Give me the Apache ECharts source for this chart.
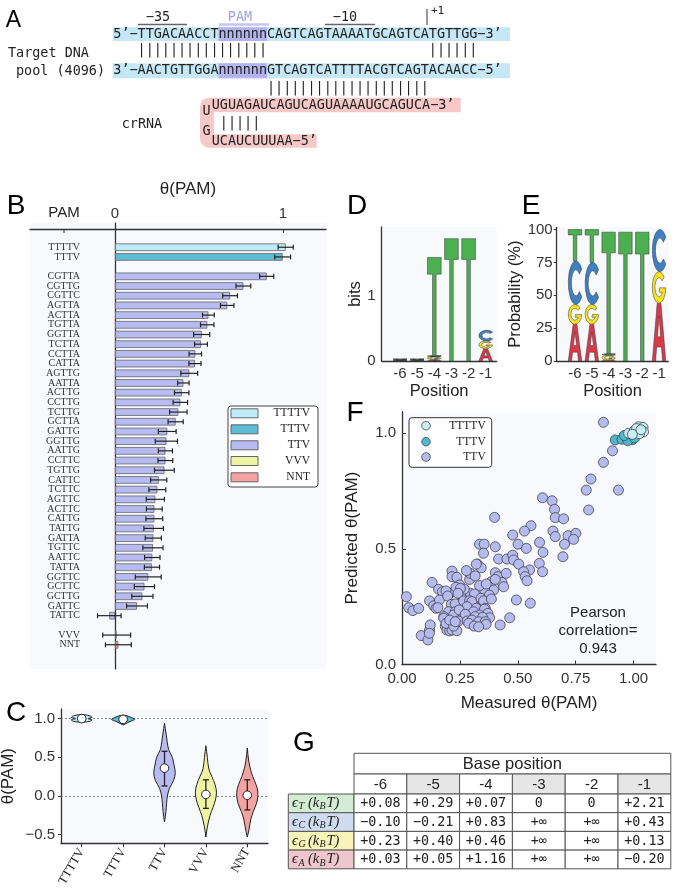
<!DOCTYPE html>
<html>
<head>
<meta charset="utf-8">
<script src="https://cdn.jsdelivr.net/npm/echarts@6/dist/echarts.min.js"></script>
<style>
html,body{margin:0;padding:0;background:#fff}
#main{width:677px;height:891px}
</style>
</head>
<body>
<div id="main"></div>
<script>
// fonts
const SANS = '"Liberation Sans", Arial, sans-serif'
const MONO = '"DejaVu Sans Mono", monospace'
const SERIF = '"Liberation Serif", serif'
const BG = '#f7f9fd'

// ---------- panel A : sequences ----------
const dnaTop = '5’−TTGACAACCTnnnnnnCAGTCAGTAAAATGCAGTCATGTTGG−3’'
const dnaBottom = '3’−AACTGTTGGAnnnnnnGTCAGTCATTTTACGTCAGTACAACC−5’'
const crTop = 'UGUAGAUCAGUCAGUAAAAUGCAGUCA−3’'
const crBottom = 'UCAUCUUUAA−5’'

// ---------- panel B : theta(PAM) per PAM ----------
const pamLabels = ['TTTTV','TTTV',
  'CGTTA','CGTTG','CGTTC','AGTTA','ACTTA','TGTTA','GGTTA','TCTTA','CCTTA','CATTA',
  'AGTTG','AATTA','ACTTG','CCTTG','TCTTG','GCTTA','GATTG','GGTTG','AATTG','CCTTC',
  'TGTTG','CATTC','TCTTC','AGTTC','ACTTC','CATTG','TATTG','GATTA','TGTTC','AATTC',
  'TATTA','GGTTC','GCTTC','GCTTG','GATTC','TATTC','VVV','NNT']
const pamTheta = [1.016,0.998,
  0.903,0.764,0.685,0.668,0.556,0.549,0.516,0.512,0.478,0.476,
  0.442,0.407,0.397,0.389,0.377,0.361,0.311,0.306,0.300,0.300,
  0.294,0.260,0.252,0.240,0.234,0.234,0.230,0.228,0.226,0.222,
  0.220,0.198,0.175,0.163,0.131,-0.034,0.01,0.02]
const pamErr = [0.045,0.047,
  0.042,0.044,0.044,0.040,0.035,0.040,0.048,0.038,0.037,0.036,
  0.050,0.034,0.043,0.043,0.052,0.045,0.053,0.066,0.042,0.044,
  0.059,0.048,0.050,0.054,0.047,0.050,0.058,0.048,0.060,0.046,
  0.045,0.077,0.060,0.063,0.062,0.070,0.083,0.077]
const groupNames = ['TTTTV','TTTV','TTV','VVV','NNT']
const groupColors = ['#bfeaf7','#5cbdd4','#b7bbf1','#eff3a4','#f4a3a3']

// ---------- panel C : violins ----------
const violinCats = ['TTTTV','TTTV','TTV','VVV','NNT']
// [theta, half width as fraction of the category band]
const violinTTTTV = [[1.05,0.07],[1.035,0.2],[1.015,0.25],[1.0,0.15],[0.985,0.25],[0.965,0.2],[0.955,0.07]]
const violinTTTV = [[1.04,0.07],[1.02,0.17],[0.99,0.28],[0.97,0.2],[0.945,0.1],[0.917,0]]
const violinTTV = [[0.94,0],[0.8,0.04],[0.6,0.1],[0.5,0.19],[0.4,0.23],[0.3,0.26],[0.2,0.22],[0.1,0.12],[0.0,0.07],[-0.1,0.05],[-0.2,0.035],[-0.335,0]]
const violinVVV = [[0.65,0],[0.5,0.035],[0.35,0.07],[0.25,0.145],[0.15,0.22],[0.05,0.255],[-0.05,0.23],[-0.15,0.17],[-0.25,0.1],[-0.4,0.035],[-0.53,0]]
const violinNNT = [[0.62,0],[0.45,0.035],[0.3,0.1],[0.2,0.17],[0.1,0.24],[0.0,0.255],[-0.1,0.22],[-0.2,0.145],[-0.3,0.085],[-0.45,0.035],[-0.53,0]]
const violinMedian = [1.0,0.99,0.36,0.02,0.01]
const violinLow = [null,null,0.13,-0.16,-0.18]
const violinHigh = [null,null,0.578,0.209,0.209]

// ---------- panels D, E : logos ----------
const logoPos = [-6,-5,-4,-3,-2,-1]
const bitsA = [0.006,0.006,0.02,0,0,0.19]
const bitsG = [0.006,0.006,0.05,0,0,0.12]
const bitsC = [0.008,0.008,0.01,0,0,0.165]
const bitsT = [0.006,0.006,1.52,1.89,1.89,0]
const probA = [28,28,0.5,0,0,44]
const probG = [15,15,4,0,0,24]
const probC = [33,32,1,0,0,32]
const probT = [24,25,92.5,98,98,0]
const logoColors = ['#d93a4a','#f5e322','#3f80c2','#4caf50'] // A G C T
const logoPaths = [
  'M0,100 L36,0 L64,0 L100,100 L76,100 L68,76 L32,76 L24,100 Z M38,58 L62,58 L50,22 Z',
  'M88,18 A50,50 0 1 0 100,52 L52,52 L52,66 L75,66 A30,30 0 1 1 72,30 Z',
  'M88,18 A50,50 0 1 0 88,82 L72,70 A30,30 0 1 1 72,30 Z',
  'M0,0 L100,0 L100,17 L63,17 L63,100 L37,100 L37,17 L0,17 Z'
]

// ---------- panel F : predicted vs measured ----------
const fTTV = [
  [0.870,1.047],[0.909,0.924],[0.870,0.874],[0.816,0.802],[0.796,0.754],[0.935,0.754],[0.806,0.668],
  [0.607,0.721],[0.648,0.708],[0.659,0.671],[0.662,0.635],[0.698,0.630],[0.400,0.636],
  [0.557,0.600],[0.529,0.577],[0.652,0.577],[0.662,0.553],[0.478,0.560],[0.717,0.557],[0.751,0.567],[0.741,0.541],
  [0.501,0.520],[0.594,0.528],[0.537,0.502],[0.702,0.520],[0.695,0.466],[0.609,0.485],
  [0.335,0.520],[0.355,0.520],[0.352,0.481],[0.403,0.509],[0.417,0.456],[0.453,0.456],[0.478,0.473],[0.482,0.452],[0.504,0.434],
  [0.326,0.434],[0.342,0.418],
  [0.593,0.437],[0.607,0.401],[0.551,0.409],[0.525,0.401],[0.532,0.380],[0.540,0.362],
  [0.403,0.397],[0.414,0.380],[0.432,0.355],[0.439,0.336],[0.450,0.394],[0.386,0.358],[0.381,0.315],[0.374,0.308],
  [0.403,0.368],[0.396,0.322],[0.357,0.322],[0.335,0.341],[0.364,0.348],
  [0.292,0.368],[0.295,0.394],[0.321,0.434],[0.278,0.406],[0.216,0.404],[0.216,0.380],[0.237,0.377],[0.316,0.383],
  [0.130,0.355],[0.158,0.325],[0.175,0.315],[0.206,0.308],[0.249,0.344],[0.256,0.300],[0.295,0.308],[0.313,0.305],
  [0.190,0.318],[0.233,0.334],[0.269,0.326],[0.252,0.329],[0.242,0.308],[0.377,0.300],
  [0.019,0.293],[0.029,0.246],[0.047,0.233],[0.072,0.243],[0.119,0.275],[0.137,0.254],[0.147,0.243],[0.162,0.279],
  [0.197,0.296],[0.213,0.260],[0.230,0.262],[0.266,0.275],[0.292,0.276],[0.302,0.272],[0.281,0.250],[0.321,0.243],
  [0.345,0.279],[0.341,0.286],[0.352,0.275],[0.386,0.283],[0.360,0.243],[0.356,0.239],
  [0.201,0.228],[0.230,0.228],[0.309,0.228],[0.335,0.214],[0.263,0.210],[0.316,0.207],[0.223,0.214],[0.247,0.236],
  [0.273,0.217],[0.371,0.221],[0.378,0.202],[0.348,0.204],[0.180,0.207],[0.155,0.246],
  [0.494,0.279],[0.554,0.265],[0.465,0.202],[0.424,0.171],
  [0.083,0.125],[0.112,0.106],[0.119,0.149],[0.122,0.171],[0.118,0.135],
  [0.180,0.200],[0.187,0.166],[0.194,0.149],[0.206,0.145],[0.216,0.149],[0.237,0.146],[0.190,0.178],[0.223,0.166],
  [0.244,0.188],[0.206,0.192],[0.230,0.185],
  [0.281,0.188],[0.302,0.192],[0.331,0.185],[0.360,0.185],[0.288,0.178],[0.312,0.166],[0.363,0.174],[0.331,0.163]
]
const fTTTV = [[0.921,0.971],[0.950,0.974],[0.967,0.985],[0.985,0.977],[0.995,0.972],[0.975,0.968],[1.005,0.980],[0.960,0.990]]
const fTTTTV = [[0.979,1.000],[1.003,1.011],[1.022,1.028],[1.041,1.025],[1.043,1.006],[1.026,0.998],[1.013,1.020],[0.995,0.995],[1.032,1.015]]

// ---------- panel G : table ----------
const tablePositions = ['-6','-5','-4','-3','-2','-1']
const energyBases = ['T','C','G','A']
const energyT = ['+0.08','+0.29','+0.07','0','0','+2.21']
const energyC = ['−0.10','−0.21','+0.83','+∞','+∞','+0.43']
const energyG = ['+0.23','+0.40','+0.46','+∞','+∞','+0.13']
const energyA = ['+0.03','+0.05','+1.16','+∞','+∞','−0.20']
const energyColors = ['#d3ecd3','#cfdbef','#f6f4b8','#efc6cc']

// ---------- helpers ----------
function txt(x, y, s, o) {
  o = o || {}
  return {
    type: 'text', x: x, y: y, rotation: o.rot || 0, silent: true, z: 10,
    style: {
      text: s, font: o.font || ('15px ' + SANS), fill: o.color || '#222',
      align: o.align || 'left', textAlign: o.align || 'left',
      verticalAlign: 'middle', textVerticalAlign: 'middle'
    }
  }
}
function box(x, y, w, h, fill, stroke, r) {
  return {
    type: 'rect', silent: true, z: 5,
    shape: { x: x, y: y, width: w, height: h, r: r || 0 },
    style: { fill: fill, stroke: stroke || null, lineWidth: stroke ? 1 : 0 }
  }
}
function seg(x1, y1, x2, y2, color, w) {
  return {
    type: 'line', silent: true, z: 6,
    shape: { x1: x1, y1: y1, x2: x2, y2: y2 },
    style: { stroke: color, lineWidth: w || 1 }
  }
}
function groupOf(label) {
  return groupNames.indexOf(label) >= 0 ? label : 'TTV'
}

// ---------- B: slots with gaps ----------
const slotNames = [' ', '  ']
const barData = []
const errData = []
let prevGroup = null
pamLabels.forEach(function (l, i) {
  const g = groupOf(l)
  if ((g === 'TTV' && prevGroup === 'TTTV') || (g === 'VVV' && prevGroup === 'TTV')) {
    slotNames.push(' '.repeat(slotNames.length + 1))
  }
  const k = slotNames.length
  slotNames.push(l)
  barData.push({ value: [pamTheta[i], k], itemStyle: { color: groupColors[groupNames.indexOf(g)] } })
  errData.push([pamTheta[i], k, pamErr[i]])
  prevGroup = g
})
slotNames.push(' '.repeat(slotNames.length + 1))
slotNames.push(' '.repeat(slotNames.length + 1))

function renderErr(params, api) {
  const x = api.value(0), y = api.value(1), e = api.value(2)
  const a = api.coord([x - e, y]), b = api.coord([x + e, y])
  const st = { stroke: '#222', lineWidth: 1.2 }
  return { type: 'group', children: [
    { type: 'line', shape: { x1: a[0], y1: a[1], x2: b[0], y2: b[1] }, style: st },
    { type: 'line', shape: { x1: a[0], y1: a[1] - 2.5, x2: a[0], y2: a[1] + 2.5 }, style: st },
    { type: 'line', shape: { x1: b[0], y1: b[1] - 2.5, x2: b[0], y2: b[1] + 2.5 }, style: st }
  ] }
}

// ---------- C: violins ----------
const violinProfiles = [violinTTTTV, violinTTTV, violinTTV, violinVVV, violinNNT]
const violinColors = ['#bfeaf7','#5cbdd4','#b7bbf1','#eff3a4','#f4a3a3']
function renderViolin(params, api) {
  const i = api.value(0)
  const prof = violinProfiles[i]
  const band = api.size([1, 0])[0]
  const right = [], left = []
  prof.forEach(function (p) {
    const c = api.coord([i, p[0]])
    right.push([c[0] + p[1] * band, c[1]])
    left.unshift([c[0] - p[1] * band, c[1]])
  })
  const kids = [{
    type: 'polygon', shape: { points: right.concat(left), smooth: 0.35 },
    style: { fill: violinColors[i], stroke: '#222', lineWidth: 1 }
  }]
  const st = { stroke: '#222', lineWidth: 1.3 }
  if (violinLow[i] !== null) {
    const lo = api.coord([i, violinLow[i]]), hi = api.coord([i, violinHigh[i]])
    kids.push({ type: 'line', shape: { x1: lo[0], y1: lo[1], x2: hi[0], y2: hi[1] }, style: st })
    kids.push({ type: 'line', shape: { x1: lo[0] - 3, y1: lo[1], x2: lo[0] + 3, y2: lo[1] }, style: st })
    kids.push({ type: 'line', shape: { x1: hi[0] - 3, y1: hi[1], x2: hi[0] + 3, y2: hi[1] }, style: st })
  }
  const m = api.coord([i, violinMedian[i]])
  kids.push({ type: 'circle', shape: { cx: m[0], cy: m[1], r: 4.3 }, style: { fill: '#fff', stroke: '#222', lineWidth: 1 } })
  return { type: 'group', children: kids }
}

// ---------- D, E: logos ----------
function stackLogo(cols) {
  const out = []
  logoPos.forEach(function (p, i) {
    let base = 0
    cols.forEach(function (arr, li) {
      const h = arr[i]
      if (h > 0) { out.push([p, base, base + h, li]); base += h }
    })
  })
  return out
}
function renderLogo(params, api) {
  const pos = api.value(0), lo = api.value(1), hi = api.value(2), li = api.value(3)
  const a = api.coord([pos, lo]), b = api.coord([pos, hi])
  const w = api.size([1, 0])[0] * 0.8
  const h = Math.max(a[1] - b[1], 0.8)
  return {
    type: 'path',
    shape: { pathData: logoPaths[li], x: a[0] - w / 2, y: a[1] - h, width: w, height: h, layout: 'cover' },
    style: { fill: logoColors[li], stroke: '#333', lineWidth: 0.5 }
  }
}

// ---------- graphic: panel A ----------
function panelA() {
  const cw = 8.09, x0 = 113.3
  const f = '13.44px ' + MONO
  const pairs1 = '   ' + '|'.repeat(16) + ' '.repeat(20) + '|'.repeat(6)
  const pairs2 = ' '.repeat(19) + '|'.repeat(20)
  const pairs3 = ' ' + '|'.repeat(5)
  return [
    box(112.7, 27.3, 397.3, 13.7, '#c6e7f6'),
    box(112.7, 63.3, 397.3, 15, '#c6e7f6'),
    box(x0 + 13 * cw, 27.3, 6 * cw, 13.7, '#b2b4ef'),
    box(x0 + 13 * cw, 63.3, 6 * cw, 15, '#b2b4ef'),
    box(200, 97.7, 14, 50, '#f6c8c8', null, [9, 0, 0, 9]),
    box(210, 97.7, 250.7, 14.6, '#f6c8c8'),
    box(210, 134.3, 106.7, 13.4, '#f6c8c8'),
    seg(138, 24.5, 187, 24.5, '#666', 1.5),
    seg(219, 24.5, 269, 24.5, '#c3c6f0', 2.5),
    seg(325, 24.5, 375, 24.5, '#666', 1.5),
    seg(427, 9, 427, 25, '#333', 1),
    txt(158, 17, '−35', { font: f, align: 'center' }),
    txt(240, 17, 'PAM', { font: f, align: 'center', color: '#9ea4de' }),
    txt(345, 17, '−10', { font: f, align: 'center' }),
    txt(431, 11, '+1', { font: '11px ' + MONO }),
    txt(x0, 34.2, dnaTop, { font: f }),
    txt(x0, 50, pairs1, { font: f }),
    txt(x0, 70.8, dnaBottom, { font: f }),
    txt(x0, 88, pairs2, { font: f }),
    txt(211.7, 105, crTop, { font: f }),
    txt(211.7, 123, pairs3, { font: f }),
    txt(211.7, 141, crBottom, { font: f }),
    txt(206.5, 111.7, 'U', { font: f, align: 'center' }),
    txt(206.5, 131, 'G', { font: f, align: 'center' }),
    txt(8, 53, 'Target DNA', { font: f }),
    txt(16, 71.5, 'pool (4096)', { font: f }),
    txt(121.7, 124, 'crRNA', { font: f })
  ]
}

// ---------- graphic: legends ----------
function legendB() {
  const els = [box(228, 406, 90, 81, '#fff', '#444', 3)]
  const ys = [413.3, 429.3, 445.3, 461, 477.3]
  groupNames.forEach(function (g, i) {
    const r = box(231, ys[i] - 4.5, 27, 9, groupColors[i], '#666')
    r.z = 6
    els.push(r)
    els.push(txt(310, ys[i], g, { font: '11.5px ' + SERIF, align: 'right' }))
  })
  return els
}
function legendF() {
  const els = [box(409, 417.7, 82.7, 49.6, '#fff', '#333', 3)]
  const ys = [425.7, 441.7, 457]
  const cols = ['#c8eef8', '#4fb8cf', '#b5baf0']
  ;['TTTTV', 'TTTV', 'TTV'].forEach(function (g, i) {
    els.push({ type: 'circle', silent: true, z: 6, shape: { cx: 426, cy: ys[i], r: 4.3 }, style: { fill: cols[i], stroke: '#444', lineWidth: 0.8 } })
    els.push(txt(485.7, ys[i], g, { font: '11.5px ' + SERIF, align: 'right' }))
  })
  return els
}

// ---------- graphic: table G ----------
function tableG() {
  const els = []
  const x0 = 354, cw = 52.8, lx = 288.3
  const st = '#555'
  els.push(box(x0, 753.3, cw * 6, 20.7, '#fff', st))
  els.push(txt(x0 + cw * 3, 764, 'Base position', { font: '16.5px ' + SANS, align: 'center' }))
  tablePositions.forEach(function (p, j) {
    els.push(box(x0 + j * cw, 774, cw, 20, j % 2 ? '#e6e6e6' : '#fff', st))
    els.push(txt(x0 + j * cw + cw / 2, 784.5, p, { font: '15px ' + SANS, align: 'center' }))
  })
  const rows = [energyT, energyC, energyG, energyA]
  const rh = 18.7
  rows.forEach(function (vals, r) {
    const y = 794 + r * rh
    els.push(box(lx, y, x0 - lx, rh, energyColors[r], st))
    const cy = y + rh / 2
    const it = 'italic 14.5px ' + SERIF, sub = 'italic 10px ' + SERIF
    els.push(txt(292, cy, 'ϵ', { font: it }))
    els.push(txt(298.5, cy + 3.5, energyBases[r], { font: sub }))
    els.push(txt(308, cy, '(k', { font: it }))
    els.push(txt(319.5, cy + 3.5, 'B', { font: sub }))
    els.push(txt(326.5, cy, 'T)', { font: it }))
    vals.forEach(function (v, j) {
      els.push(box(x0 + j * cw, y, cw, rh, '#fff', st))
      els.push(txt(x0 + j * cw + cw / 2, cy + 0.5, v, { font: '13.4px ' + MONO, align: 'center' }))
    })
  })
  return els
}

function letters() {
  const f = '28px ' + SANS
  return [
    txt(13.5, 20.5, 'A', { font: '23px ' + SANS, align: 'center', color: '#000' }),
    txt(16, 206, 'B', { font: f, align: 'center', color: '#000' }),
    txt(16, 713, 'C', { font: f, align: 'center', color: '#000' }),
    txt(357, 206, 'D', { font: f, align: 'center', color: '#000' }),
    txt(531, 206, 'E', { font: f, align: 'center', color: '#000' }),
    txt(355, 413, 'F', { font: f, align: 'center', color: '#000' }),
    txt(304, 743, 'G', { font: f, align: 'center', color: '#000' }),
    // B header row
    txt(188, 189, 'θ(PAM)', { font: '17px ' + SANS, align: 'center' }),
    txt(64, 213, 'PAM', { font: '15px ' + SANS, align: 'center' }),
    seg(64, 229, 64, 233, '#333', 1),
    // F annotation
    txt(598, 613, 'Pearson', { font: '15px ' + SANS, align: 'center' }),
    txt(598, 631, 'correlation=', { font: '15px ' + SANS, align: 'center' }),
    txt(598, 649, '0.943', { font: '15px ' + SANS, align: 'center' })
  ]
}

// ---------- axes ----------
const lbl = { fontFamily: SANS, fontSize: 15, color: '#333' }
const axLine = { show: true, onZero: false, lineStyle: { color: '#333', width: 1.3 } }
const nameStyle = { fontFamily: SANS, fontSize: 16.5, color: '#222' }

function gridAt(left, top, width, height) {
  return { left: left, top: top, width: width, height: height, show: true, backgroundColor: BG,
    borderWidth: 0, containLabel: false, outerBoundsMode: 'none' }
}

function getOption() {
  return {
    animation: false,
    backgroundColor: '#fff',
    grid: [
      gridAt(30, 223, 296, 446),
      gridAt(61, 709, 207, 134.3),
      gridAt(381.7, 227, 115, 134),
      gridAt(556.7, 227.3, 111.6, 133.7),
      gridAt(402, 411.7, 254, 252.8)
    ],
    xAxis: [
      { gridIndex: 0, type: 'value', position: 'top', offset: -6, min: -0.506, max: 1.256,
        axisLine: axLine, splitLine: { show: false },
        axisTick: { show: true, inside: true, length: 4, customValues: [0, 1], lineStyle: { color: '#333' } },
        axisLabel: Object.assign({ customValues: [0, 1], margin: 8 }, lbl) },
      { gridIndex: 1, type: 'category', data: violinCats, axisLine: axLine,
        axisTick: { show: true, alignWithLabel: true, length: 4, lineStyle: { color: '#333' } },
        axisLabel: { rotate: 60, margin: 6, fontFamily: SERIF, fontSize: 12.5, color: '#222' } },
      { gridIndex: 2, type: 'value', min: -7.07, max: -0.36, axisLine: axLine, splitLine: { show: false },
        axisTick: { show: false },
        axisLabel: Object.assign({ customValues: logoPos, margin: 5, formatter: function (v) { return String(v) } }, lbl),
        name: 'Position', nameLocation: 'middle', nameGap: 22, nameTextStyle: nameStyle },
      { gridIndex: 3, type: 'value', min: -7.09, max: -0.45, axisLine: axLine, splitLine: { show: false },
        axisTick: { show: false },
        axisLabel: Object.assign({ customValues: logoPos, margin: 5, formatter: function (v) { return String(v) } }, lbl),
        name: 'Position', nameLocation: 'middle', nameGap: 22, nameTextStyle: nameStyle },
      { gridIndex: 4, type: 'value', min: 0, max: 1.097, axisLine: axLine, splitLine: { show: false },
        axisTick: { show: true, inside: true, length: 4, customValues: [0, 0.25, 0.5, 0.75, 1], lineStyle: { color: '#333' } },
        axisLabel: Object.assign({ customValues: [0, 0.25, 0.5, 0.75, 1], margin: 7, formatter: function (v) { return v.toFixed(2) } }, lbl),
        name: 'Measured θ(PAM)', nameLocation: 'middle', nameGap: 30, nameTextStyle: { fontFamily: SANS, fontSize: 17, color: '#222' } }
    ],
    yAxis: [
      { gridIndex: 0, type: 'category', inverse: true, data: slotNames, position: 'left', offset: -85,
        axisLine: axLine, axisTick: { show: false },
        axisLabel: { margin: 35, fontFamily: SERIF, fontSize: 10, color: '#333', interval: 0 } },
      { gridIndex: 1, type: 'value', min: -0.611, max: 1.124, axisLine: axLine, splitLine: { show: false },
        axisTick: { show: true, length: 3, customValues: [-0.5, 0, 0.5, 1], lineStyle: { color: '#333' } },
        axisLabel: Object.assign({ customValues: [-0.5, 0, 0.5, 1], margin: 6, formatter: function (v) { return v.toFixed(1).replace('-', '−') } }, lbl),
        name: 'θ(PAM)', nameLocation: 'middle', nameGap: 44, nameTextStyle: { fontFamily: SANS, fontSize: 17, color: '#222' } },
      { gridIndex: 2, type: 'value', min: 0, max: 2.07, axisLine: axLine, splitLine: { show: false },
        axisTick: { show: false },
        axisLabel: Object.assign({ customValues: [0, 1], margin: 6 }, lbl),
        name: 'bits', nameLocation: 'middle', nameGap: 16, nameTextStyle: nameStyle },
      { gridIndex: 3, type: 'value', min: 0, max: 101.7, axisLine: axLine, splitLine: { show: false },
        axisTick: { show: true, length: 3, customValues: [0, 25, 50, 75, 100], lineStyle: { color: '#333' } },
        axisLabel: Object.assign({ customValues: [0, 25, 50, 75, 100], margin: 4 }, lbl),
        name: 'Probability (%)', nameLocation: 'middle', nameGap: 33, nameTextStyle: nameStyle },
      { gridIndex: 4, type: 'value', min: 0, max: 1.093, axisLine: axLine, splitLine: { show: false },
        axisTick: { show: true, inside: true, length: 4, customValues: [0, 0.5, 1], lineStyle: { color: '#333' } },
        axisLabel: Object.assign({ customValues: [0, 0.5, 1], margin: 6, formatter: function (v) { return v.toFixed(1) } }, lbl),
        name: 'Predicted θ(PAM)', nameLocation: 'middle', nameGap: 41, nameTextStyle: { fontFamily: SANS, fontSize: 17, color: '#222' } }
    ],
    series: [
      { type: 'bar', xAxisIndex: 0, yAxisIndex: 0, data: barData, barWidth: 7.6,
        itemStyle: { borderColor: '#666', borderWidth: 0.8 } },
      { type: 'custom', xAxisIndex: 0, yAxisIndex: 0, data: errData, renderItem: renderErr,
        encode: { x: 0, y: 1 }, z: 5, clip: false },
      { type: 'custom', xAxisIndex: 1, yAxisIndex: 1, clip: false,
        data: violinMedian.map(function (m, i) { return [i, m] }),
        encode: { x: 0, y: 1 }, renderItem: renderViolin, z: 5,
        markLine: { silent: true, symbol: 'none', label: { show: false },
          lineStyle: { color: '#777', type: [2, 2], width: 0.9 },
          data: [{ yAxis: 1 }, { yAxis: 0 }] } },
      { type: 'custom', xAxisIndex: 2, yAxisIndex: 2, clip: false,
        data: stackLogo([bitsA, bitsG, bitsC, bitsT]), encode: { x: 0, y: [1, 2] }, renderItem: renderLogo },
      { type: 'custom', xAxisIndex: 3, yAxisIndex: 3, clip: false,
        data: stackLogo([probA, probG, probC, probT]), encode: { x: 0, y: [1, 2] }, renderItem: renderLogo },
      { type: 'scatter', xAxisIndex: 4, yAxisIndex: 4, data: fTTV, symbolSize: 10,
        itemStyle: { color: '#b5baf0', borderColor: '#444', borderWidth: 0.8, opacity: 1 } },
      { type: 'scatter', xAxisIndex: 4, yAxisIndex: 4, data: fTTTV, symbolSize: 10,
        itemStyle: { color: '#4fb8cf', borderColor: '#444', borderWidth: 0.8, opacity: 1 } },
      { type: 'scatter', xAxisIndex: 4, yAxisIndex: 4, data: fTTTTV, symbolSize: 10,
        itemStyle: { color: '#c8eef8', borderColor: '#444', borderWidth: 0.8, opacity: 1 } }
    ],
    graphic: panelA().concat(legendB(), legendF(), tableG(), letters())
  }
}

const chart = echarts.init(document.getElementById('main'))
chart.setOption(getOption())
</script>
</body>
</html>
